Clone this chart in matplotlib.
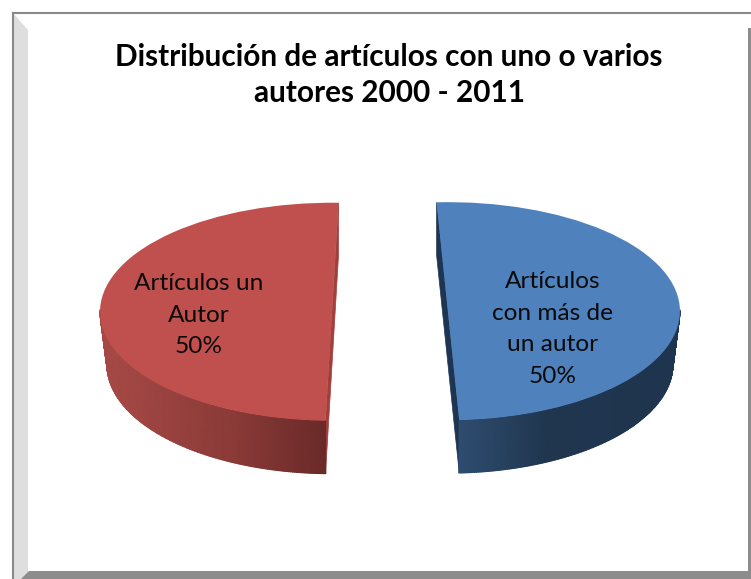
import numpy as np
import matplotlib
matplotlib.use("Agg")
import matplotlib.pyplot as plt
from matplotlib.patches import Polygon, Rectangle
from matplotlib.colors import LinearSegmentedColormap

title = "Distribución de artículos con uno o varios\nautores 2000 - 2011"
categories = ["Artículos\ncon más de\nun autor", "Artículos un\nAutor"]
values = [50, 50]
top_colors = ["#4f81bd", "#c0504d"]
wall_colors = ["#1d3552", "#a03f3c"]
side_stops = [[(0, "#2e4c70"), (0.4, "#20364f"), (1, "#1f344e")],
              [(0, "#a84a47"), (0.6, "#8a3a37"), (1, "#6a2a28")]]

W, H = 751, 579
DEPTH = 53
RX, RY = 232, 109
CX, CY = 390, 312.5
BOTTOM_SCALE = 0.97

plt.rcParams['font.family'] = ['Lato', 'DejaVu Sans']
fig = plt.figure(figsize=(W / 100, H / 100), dpi=100, facecolor="white")

# frame, in pixel coordinates
bg = fig.add_axes([0, 0, 1, 1])
bg.set_xlim(0, W); bg.set_ylim(H, 0); bg.axis("off")
bg.add_patch(Polygon([(13, 13), (13, H), (28, H), (28, 30)], closed=True, fc="#dedede", ec="none"))
bg.add_patch(Polygon([(21, H), (29, 571), (W, 571), (W, H)], closed=True, fc="#8c8c8c", ec="none", zorder=3))
bg.add_patch(Rectangle((748, 28), 3, 545, fc="#8c8c8c", ec="none"))
bg.plot([13, 13], [13, H], color="#8a8a8a", lw=1.5)
bg.plot([13, W], [13, 13], color="#8a8a8a", lw=1.5)

# pie axes: one data unit = RX px horizontally, RY px vertically
ax = fig.add_axes([0, 0, 1, 1], facecolor="none")
# the two halves are cut at slightly different angles in the perspective of the original
blue, _ = ax.pie(values, startangle=92.8, counterclock=False, colors=[top_colors[0], "none"],
                 explode=[0.25, 0], frame=True, wedgeprops=dict(edgecolor="none", zorder=5))
red, _ = ax.pie(values[::-1], startangle=88.4, counterclock=True, colors=[top_colors[1], "none"],
                explode=[0.25, 0], frame=True, wedgeprops=dict(edgecolor="none", zorder=5))
blue[1].remove(); red[1].remove()
wedges = [blue[0], red[0]]
ax.set_aspect("auto")
ax.axis("off")
dy = DEPTH / RY

for i, w in enumerate(wedges):
    cx, cy = w.center
    t1, t2 = np.radians(w.theta1), np.radians(w.theta2)
    # inner wall under the top face
    pts = [(cx + np.cos(t2), cy + np.sin(t2)), (cx, cy), (cx + np.cos(t1), cy + np.sin(t1))]
    wall = pts + [(x, y - dy) for x, y in pts[::-1]]
    ax.add_patch(Polygon(wall, closed=True, fc=wall_colors[i], ec=wall_colors[i], lw=0.5, zorder=2))
    # outer rim with a smooth shade; the lower edge is a little narrower (perspective)
    th = np.linspace(t1, t2, 361)
    th = th[np.sin(th) < 0.02]
    xs = np.cos(th)
    ys = np.sin(th)
    X = np.vstack([cx + xs, cx + xs * BOTTOM_SCALE])
    Y = np.vstack([cy + ys, cy + ys - dy])
    C = (X - X.min()) / (X.max() - X.min())
    cmap = LinearSegmentedColormap.from_list(f"side{i}", side_stops[i])
    ax.pcolormesh(X, Y, C, cmap=cmap, vmin=0, vmax=1, shading="gouraud", zorder=3)
ax.set_xlim(-CX / RX, (W - CX) / RX)
ax.set_ylim(-(H - CY) / RY, CY / RY)

# text
fig.text(389 / W, 1 - 75 / H, title, ha="center", va="center", fontsize=21.4, fontweight="bold",
         color="black", linespacing=1.38)
positions = [(553, 329), (199, 315)]
for name, val, (px, py) in zip(categories, values, positions):
    pct = round(100 * val / sum(values))
    fig.text(px / W, 1 - py / H, f"{name}\n{pct}%", ha="center", va="center", fontsize=17.6,
             color="#0a0a0a", linespacing=1.63, zorder=10)

fig.savefig("out.png", dpi=100)
